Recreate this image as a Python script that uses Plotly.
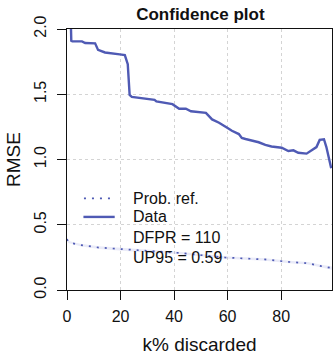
import plotly.graph_objects as go

# Data series (RMSE vs k% discarded)
data_x = [1.2, 1.6, 2.0, 5.6, 6.8, 10.5, 11.6, 14.2, 19.7, 21.6,
          22.7, 23.4, 24.2, 27.8, 32.7, 33.4, 39.4, 41.9, 44.4, 46.3,
          51.9, 54.2, 56.8, 59.7, 61.6, 64.2, 65.3, 66.7, 69.0, 71.6,
          74.1, 76.4, 80.2, 82.7, 84.6, 86.4, 89.5, 91.3, 93.2, 94.4,
          96.0, 96.9, 98.7]
data_y = [2.25, 1.91, 1.906, 1.905, 1.893, 1.89, 1.84, 1.82, 1.806, 1.80,
          1.73, 1.494, 1.48, 1.47, 1.457, 1.445, 1.424, 1.389, 1.389, 1.37,
          1.357, 1.307, 1.282, 1.245, 1.22, 1.195, 1.165, 1.157, 1.145, 1.132,
          1.112, 1.10, 1.09, 1.065, 1.07, 1.052, 1.045, 1.07, 1.095, 1.15,
          1.155, 1.095, 0.933]

# Probabilistic reference curve and its band
ref_x = [0, 0.5, 2, 5, 12, 27, 42, 59, 74, 83, 90, 95, 99]
ref_y = [0.39, 0.37, 0.358, 0.345, 0.325, 0.302, 0.284, 0.249, 0.234, 0.215, 0.205, 0.183, 0.168]
ref_lo = [0.38, 0.36, 0.348, 0.335, 0.315, 0.292, 0.274, 0.239, 0.224, 0.205, 0.195, 0.173, 0.156]
ref_hi = [0.40, 0.38, 0.368, 0.355, 0.335, 0.312, 0.294, 0.259, 0.244, 0.225, 0.215, 0.193, 0.18]

legend_labels = ["Prob. ref.", "Data"]
stats_labels = ["DFPR = 110", "UP95 = 0.59"]

x_ticks = [0, 20, 40, 60, 80]
y_ticks = [0.0, 0.5, 1.0, 1.5, 2.0]

LINE = "#4f5ab4"
FONT = "Liberation Sans, Arial, sans-serif"

fig = go.Figure()
fig.add_trace(go.Scatter(x=ref_x + ref_x[::-1], y=ref_hi + ref_lo[::-1], fill="toself",
                         fillcolor="rgba(90,100,200,0.13)", line=dict(width=0),
                         mode="lines", hoverinfo="skip", showlegend=False))
fig.add_trace(go.Scatter(x=ref_x, y=ref_y, mode="lines",
                         line=dict(color=LINE, width=1.7, dash="2px,6px"), showlegend=False))
fig.add_trace(go.Scatter(x=data_x, y=data_y, mode="lines",
                         line=dict(color=LINE, width=2.4), showlegend=False))

# manual legend
leg_y = [0.351, 0.280]
dashes = ["2px,6px", "solid"]
widths = [1.7, 2.4]
x0s = [0.064, 0.062]
for lab, yy, d, w, x0 in zip(legend_labels, leg_y, dashes, widths, x0s):
    fig.add_shape(type="line", xref="paper", yref="paper", x0=x0, x1=0.18, y0=yy, y1=yy,
                  line=dict(color=LINE, width=w, dash=d))
    fig.add_annotation(xref="paper", yref="paper", x=0.243, y=yy, text=lab, showarrow=False,
                       xanchor="left", yanchor="middle", font=dict(size=16, color="#111"))
for lab, yy in zip(stats_labels, [0.203, 0.125]):
    fig.add_annotation(xref="paper", yref="paper", x=0.243, y=yy, text=lab, showarrow=False,
                       xanchor="left", yanchor="middle", font=dict(size=16, color="#111"))

fig.update_layout(
    width=334, height=355, autosize=False,
    margin=dict(l=67, r=1, t=29, b=59),
    paper_bgcolor="white", plot_bgcolor="white",
    font=dict(family=FONT, size=16, color="#111"),
    title=dict(text="<b>Confidence plot</b>", x=0.6, xanchor="center", y=0.96, yanchor="middle",
               font=dict(size=17, family=FONT, color="#111")),
    xaxis=dict(range=[0, 99], tickvals=x_ticks, ticks="outside", ticklen=9, tickcolor="#111",
               ticklabelstandoff=3,
               showline=True, linecolor="#111", linewidth=1.3, mirror=True,
               showgrid=True, gridcolor="#d4d4d4", griddash="dot", gridwidth=1,
               zeroline=False, title=dict(text="k% discarded", standoff=15)),
    yaxis=dict(range=[0, 2], tickvals=y_ticks, ticktext=["0.0", "0.5", "1.0", "1.5", "2.0"],
               tickangle=-90, ticks="outside", ticklen=9, tickcolor="#111",
               ticklabelstandoff=4,
               showline=True, linecolor="#111", linewidth=1.3, mirror=True,
               showgrid=True, gridcolor="#d4d4d4", griddash="dot", gridwidth=1,
               zeroline=False, title=dict(text="RMSE", standoff=6)),
)
fig.write_html("out.html")
